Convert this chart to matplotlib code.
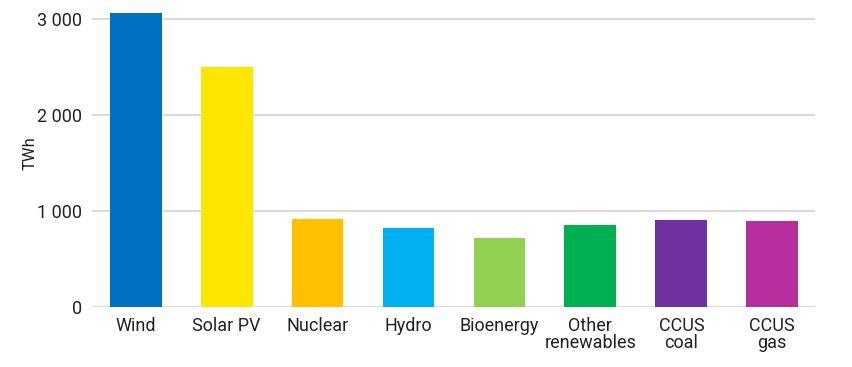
import matplotlib.pyplot as plt
import numpy as np

plt.rcParams['font.family'] = ['Roboto', 'DejaVu Sans']

categories = ['Wind', 'Solar PV', 'Nuclear', 'Hydro', 'Bioenergy',
              'Other\nrenewables', 'CCUS\ncoal', 'CCUS\ngas']
values = [3060, 2500, 920, 825, 720, 860, 910, 895]
colors = ['#0070C0', '#FFE600', '#FFC000', '#00B0F0', '#92D050',
          '#00B050', '#7030A0', '#B5309E']
yticks = [0, 1000, 2000, 3000]
ytick_labels = ['0', '1 000', '2 000', '3 000']

fig = plt.figure(figsize=(8.53, 3.67), dpi=100)
ax = fig.add_axes([92 / 853, 0.163, (815 - 92) / 853, 0.837])

x = np.arange(len(categories))
ax.bar(x, values, width=0.57, color=colors, zorder=3)

ax.set_xlim(-0.48, 7.47)
ax.set_ylim(0, 3200)
ax.set_yticks(yticks)
ax.set_yticklabels(ytick_labels)
ax.set_xticks(x)
ax.set_xticklabels(categories, linespacing=0.9)

ax.grid(axis='y', color='#DADADA', linewidth=1.5, zorder=0)
for s in ax.spines.values():
    s.set_visible(False)
ax.tick_params(axis='both', length=0, labelsize=13, colors='#222222')
ax.tick_params(axis='y', pad=7)
ax.tick_params(axis='x', pad=7)
ax.set_ylabel('TWh', fontsize=12, color='#222222', labelpad=0)

fig.savefig('out.png', dpi=100)
